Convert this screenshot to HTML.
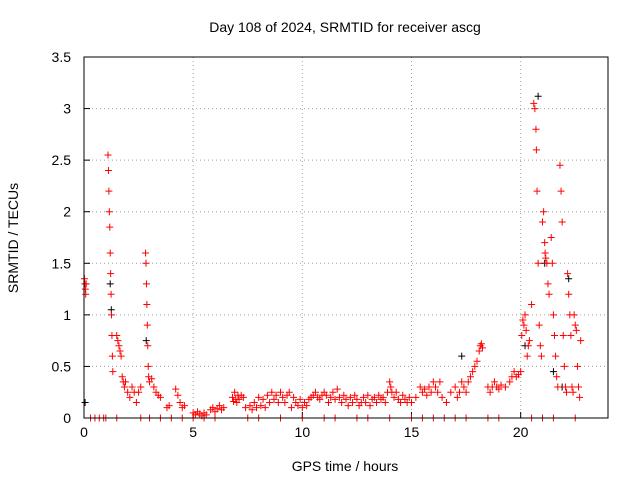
<!DOCTYPE html>
<html><head><meta charset="utf-8"><style>
body{margin:0;background:#fff;}
svg{display:block;font-family:"Liberation Sans",sans-serif;}
</style></head><body>
<svg id="chart" width="640" height="480">
<text x="345" y="32" font-size="14" text-anchor="middle">Day 108 of 2024, SRMTID for receiver ascg</text>
<text x="345" y="471" font-size="14" text-anchor="middle">GPS time / hours</text>
<text transform="translate(18,238) rotate(-90)" font-size="14" text-anchor="middle">SRMTID / TECUs</text>
<g id="grid"></g><g id="ticks"></g><g id="marks"></g>
<rect x="84" y="57" width="524" height="361" fill="none" stroke="#000"/>
</svg>
<script>
const xTicks=[0,5,10,15,20];
const yTicks=[0,0.5,1,1.5,2,2.5,3,3.5];
const yTickLabels=["0","0.5","1","1.5","2","2.5","3","3.5"];
const redHours=[
0.02,0.04,0.06,0.08,0.1,1.1,1.12,1.14,1.16,1.18,
1.2,1.22,1.24,1.26,1.28,1.3,1.32,1.5,1.55,1.6,
1.65,1.7,1.75,1.8,1.85,1.9,2.0,2.1,2.2,2.3,
2.4,2.5,2.6,2.82,2.84,2.86,2.88,2.9,2.92,2.94,
2.96,3.0,3.1,3.2,3.3,3.4,3.5,3.8,3.9,4.2,
4.3,4.4,4.5,4.6,5.0,5.1,5.2,5.3,5.4,5.5,
5.6,5.8,5.9,6.0,6.1,6.2,6.3,6.4,6.8,6.85,
6.9,6.95,7.0,7.05,7.1,7.2,7.3,7.4,7.6,7.7,
7.8,7.9,8.0,8.1,8.2,8.3,8.4,8.5,8.6,8.7,
8.8,8.9,9.0,9.1,9.2,9.3,9.4,9.5,9.6,9.7,
9.8,9.9,10.0,10.1,10.2,10.3,10.4,10.5,10.6,10.7,
10.8,10.9,11.0,11.1,11.2,11.3,11.4,11.5,11.6,11.7,
11.8,11.9,12.0,12.1,12.2,12.3,12.4,12.5,12.6,12.7,
12.8,12.9,13.0,13.1,13.2,13.3,13.4,13.5,13.6,13.7,
13.8,13.9,14.0,14.05,14.1,14.2,14.3,14.4,14.5,14.6,
14.7,14.8,14.9,15.0,15.2,15.4,15.5,15.6,15.7,15.8,
15.9,16.0,16.1,16.2,16.3,16.4,16.6,16.8,17.0,17.1,
17.2,17.3,17.4,17.5,17.6,17.7,17.8,17.9,18.0,18.1,
18.15,18.2,18.25,18.5,18.6,18.7,18.8,18.9,19.0,19.1,
19.3,19.5,19.6,19.7,19.8,19.9,20.0,20.05,20.1,20.15,
20.2,20.25,20.3,20.35,20.4,20.5,20.6,20.65,20.7,20.72,
20.75,20.8,20.85,20.9,20.95,21.0,21.05,21.1,21.12,21.15,
21.2,21.25,21.3,21.4,21.45,21.5,21.55,21.6,21.65,21.7,
21.8,21.85,21.9,21.95,22.0,22.05,22.1,22.15,22.2,22.25,
22.3,22.35,22.4,22.45,22.5,22.55,22.6,22.65,22.7,22.75];
const redValues=[
1.35,1.3,1.25,1.2,1.3,2.55,2.4,2.2,2.0,1.85,
1.6,1.4,1.2,1.0,0.8,0.6,0.45,0.8,0.75,0.7,
0.65,0.6,0.4,0.35,0.3,0.35,0.25,0.2,0.3,0.25,
0.15,0.25,0.3,1.6,1.5,1.3,1.1,0.9,0.7,0.5,
0.4,0.35,0.38,0.3,0.25,0.22,0.2,0.1,0.12,0.28,
0.22,0.15,0.1,0.12,0.05,0.03,0.06,0.04,0.02,0.05,
0.03,0.08,0.1,0.06,0.09,0.12,0.08,0.1,0.2,0.16,
0.25,0.18,0.15,0.22,0.18,0.22,0.2,0.1,0.12,0.08,
0.15,0.1,0.2,0.12,0.18,0.1,0.22,0.15,0.25,0.18,
0.22,0.15,0.25,0.2,0.15,0.22,0.25,0.1,0.2,0.15,
0.12,0.18,0.1,0.15,0.12,0.18,0.2,0.22,0.25,0.2,
0.18,0.22,0.25,0.22,0.15,0.2,0.25,0.18,0.28,0.2,
0.15,0.22,0.18,0.12,0.2,0.15,0.22,0.18,0.12,0.15,
0.2,0.15,0.22,0.12,0.18,0.2,0.15,0.22,0.18,0.2,
0.15,0.25,0.35,0.3,0.25,0.2,0.25,0.18,0.15,0.22,
0.18,0.15,0.2,0.15,0.2,0.3,0.25,0.28,0.22,0.3,
0.25,0.35,0.3,0.25,0.35,0.2,0.15,0.25,0.3,0.2,
0.25,0.35,0.3,0.25,0.35,0.4,0.45,0.5,0.55,0.65,
0.7,0.72,0.68,0.3,0.25,0.3,0.35,0.3,0.28,0.32,
0.3,0.35,0.4,0.45,0.4,0.42,0.45,0.8,0.95,0.9,
1.0,0.85,0.6,0.7,0.75,1.1,3.05,3.0,2.8,2.6,
2.2,1.5,0.9,0.7,0.6,1.9,2.0,1.7,1.6,1.55,
1.5,1.3,1.2,1.75,1.5,1.0,0.8,0.6,0.4,0.3,
2.45,2.2,1.9,0.8,0.5,0.3,0.25,1.4,1.2,1.0,
0.8,0.3,0.25,1.0,0.9,0.85,0.5,0.3,0.2,0.75];
const zeroHours=[0.3,0.5,0.7,0.9,1.0,1.5,2.6,3.0,3.5,4.0,4.5,5.0,5.5,6.0,7.5,8.0,9.0,10.0,11.0,11.5,12.5,13.0,14.0,15.0,15.5,16.0,16.5,17.0,17.5,18.5,19.0,20.5,21.0,21.5,22.5];
const blackHours=[0.05,1.2,1.25,2.85,17.3,20.2,20.8,21.1,21.5,21.9,22.2];
const blackValues=[0.15,1.3,1.05,0.75,0.6,0.7,3.12,1.5,0.45,0.3,1.35];
const X=h=>84+h*524/24, Y=v=>418-v*361/3.5;
const NS="http://www.w3.org/2000/svg";
const g=document.getElementById('grid'), t=document.getElementById('ticks'), m=document.getElementById('marks');
function el(tag,a,p){const e=document.createElementNS(NS,tag);for(const k in a)e.setAttribute(k,a[k]);p.appendChild(e);return e;}
xTicks.forEach(v=>{
 const l=el('line',{x1:X(v),x2:X(v),y1:57,y2:418,stroke:'#a0a0a0','stroke-dasharray':'1,3'},g);
 
 
 const tx=el('text',{x:X(v),y:437,'font-size':14,'text-anchor':'middle'},t);tx.textContent=v;
 
 
 el('line',{x1:X(v),x2:X(v),y1:418,y2:412,stroke:'#000'},t);
});
yTicks.forEach((v,i)=>{
 const l=el('line',{x1:84,x2:608,y1:Y(v),y2:Y(v),stroke:'#a0a0a0','stroke-dasharray':'1,3'},g);
 
 
 const tx=el('text',{x:71,y:Y(v)+5,'font-size':14,'text-anchor':'end'},t);tx.textContent=yTickLabels[i];
 
 
 el('line',{x1:84,x2:90,y1:Y(v),y2:Y(v),stroke:'#000'},t);
});
function plus(h,v,c){
 const p=el('path',{d:`M${X(h)-3.5},${Y(v)}h7M${X(h)},${Y(v)-3.5}v7`,stroke:c,'stroke-width':1},m);
 
 
}
blackHours.forEach((h,i)=>plus(h,blackValues[i],'#000'));
redHours.forEach((h,i)=>plus(h,redValues[i],'#f00'));
zeroHours.forEach(h=>plus(h,0,'#f00'));
</script>
</body></html>
